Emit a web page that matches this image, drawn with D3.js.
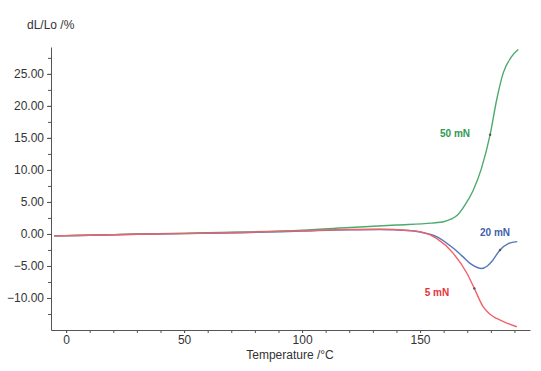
<!DOCTYPE html>
<html>
<head>
<meta charset="utf-8">
<script src="https://cdn.jsdelivr.net/npm/d3@7.9.0/dist/d3.min.js"></script>
<style>
  body { margin: 0; background: #fff; }
  svg { display: block; font-family: "Liberation Sans", Arial, sans-serif; }
  .axis path, .axis line { stroke: #555; }
  .axis text { fill: #333; font-size: 12px; }
</style>
</head>
<body>
<div id="chart"></div>
<script>
// temperatures (°C) and dL/Lo (%)
const tempGreen = [-5, 10, 30, 50, 75, 100, 120, 140, 155, 160, 163, 166, 169, 172.5, 176, 179.7, 182.5, 185.3, 188.8, 191.6];
const dlGreen   = [-0.3, -0.2, 0, 0.1, 0.3, 0.6, 1.0, 1.4, 1.7, 1.9, 2.3, 3.0, 4.5, 6.8, 10.2, 15.5, 21.0, 25.2, 27.7, 28.8];

const tempBlue = [-5, 10, 30, 50, 75, 100, 120, 133, 145, 150, 157, 164, 168, 171.2, 174, 176.1, 178.5, 180.4, 183.9, 187.4, 191.2];
const dlBlue   = [-0.3, -0.2, -0.05, 0.05, 0.2, 0.45, 0.65, 0.7, 0.55, 0.3, -0.4, -2.2, -3.5, -4.6, -5.2, -5.4, -5.0, -4.3, -2.5, -1.5, -1.2];

const tempRed = [-5, 10, 30, 50, 75, 100, 120, 133, 145, 150, 157, 164, 169.8, 173, 176.8, 179.5, 182.5, 186, 191];
const dlRed   = [-0.3, -0.2, -0.05, 0.05, 0.25, 0.5, 0.7, 0.73, 0.55, 0.36, -0.7, -3.0, -6.1, -8.5, -11.4, -12.5, -13.2, -13.8, -14.5];

const xTicks = [0, 50, 100, 150];
const yTicks = [-10, -5, 0, 5, 10, 15, 20, 25];

const series = [
  { name: '50 mN', temps: tempGreen, values: dlGreen, color: '#4daa6e', text: '#2f9a52', label: [455, 133], mark: 179.7 },
  { name: '20 mN', temps: tempBlue, values: dlBlue, color: '#5577bb', text: '#3d5fae', label: [495, 232], mark: 183.9 },
  { name: '5 mN', temps: tempRed, values: dlRed, color: '#f0626a', text: '#e8333f', label: [437, 292], mark: 173 },
];

const width = 541;
const height = 371;

const svg = d3.select('#chart').append('svg')
  .attr('width', width)
  .attr('height', height);

const x = d3.scaleLinear().domain([-6.4, 196.6]).range([51, 530]);
const y = d3.scaleLinear().domain([-15, 29.2]).range([330, 47]);

// minor ticks
svg.append('g')
  .attr('class', 'axis')
  .attr('transform', 'translate(0,330)')
  .call(d3.axisBottom(x).tickValues(d3.range(0, 200, 10)).tickFormat('').tickSize(3).tickSizeOuter(0));

svg.append('g')
  .attr('class', 'axis')
  .attr('transform', 'translate(51,0)')
  .call(d3.axisLeft(y).tickValues(d3.range(-12.5, 29, 2.5)).tickFormat('').tickSize(3).tickSizeOuter(0));

// labelled ticks
svg.append('g')
  .attr('class', 'axis')
  .attr('transform', 'translate(0,330)')
  .call(d3.axisBottom(x).tickValues(xTicks).tickFormat(d3.format('d')).tickSize(3).tickPadding(2).tickSizeOuter(0))
  .call((g) => g.select('.domain').remove());

svg.append('g')
  .attr('class', 'axis')
  .attr('transform', 'translate(51,0)')
  .call(d3.axisLeft(y).tickValues(yTicks).tickFormat(d3.format('.2f')).tickSize(4).tickPadding(3).tickSizeOuter(0))
  .call((g) => g.select('.domain').remove());

svg.append('text')
  .attr('x', 27)
  .attr('y', 29)
  .attr('fill', '#333')
  .attr('font-size', 12)
  .text('dL/Lo /%');

svg.append('text')
  .attr('x', 290)
  .attr('y', 359)
  .attr('text-anchor', 'middle')
  .attr('fill', '#333')
  .attr('font-size', 12)
  .text('Temperature /°C');

const line = d3.line()
  .x((d) => x(d[0]))
  .y((d) => y(d[1]))
  .curve(d3.curveMonotoneX);

series.forEach((s) => {
  const pts = s.temps.map((t, i) => [t, s.values[i]]);
  svg.append('path')
    .datum(pts)
    .attr('fill', 'none')
    .attr('stroke', s.color)
    .attr('stroke-width', 1.4)
    .attr('d', line);

  const i = s.temps.indexOf(s.mark);
  svg.append('circle')
    .attr('cx', x(s.temps[i]))
    .attr('cy', y(s.values[i]))
    .attr('r', 1.2)
    .attr('fill', '#555');

  svg.append('text')
    .attr('x', s.label[0])
    .attr('y', s.label[1])
    .attr('dy', '0.35em')
    .attr('text-anchor', 'middle')
    .attr('font-size', 10)
    .attr('font-weight', 'bold')
    .attr('fill', s.text)
    .text(s.name);
});
</script>
</body>
</html>
